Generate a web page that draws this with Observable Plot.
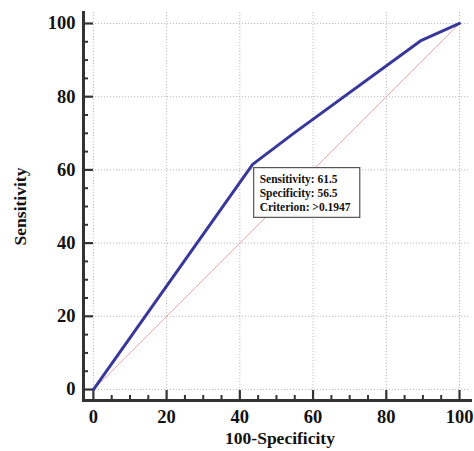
<!DOCTYPE html>
<html>
<head>
<meta charset="utf-8">
<script src="https://cdn.jsdelivr.net/npm/d3@7"></script>
<script src="https://cdn.jsdelivr.net/npm/@observablehq/plot@0.6"></script>
<style>
  html, body { margin: 0; padding: 0; background: #fff; }
  #chart svg { display: block; }
</style>
</head>
<body>
<div id="chart"></div>
<script>
// ROC curve (100-Specificity vs Sensitivity)
const rocX = [0, 43.5, 54.6, 89.6, 100];
const rocY = [0, 61.5, 69.9, 95.4, 100];
// reference diagonal
const diagX = [0, 100];
const diagY = [0, 100];
// ticks
const majorTicks = [0, 20, 40, 60, 80, 100];
const minorTicks = d3.range(0, 101, 5).filter(v => v % 20 !== 0);
// annotation
const annotX = 43.5;
const annotY = 61.5;
const annotLines = ["Sensitivity: 61.5", "Specificity: 56.5", "Criterion: >0.1947"];
const xTitle = "100-Specificity";
const yTitle = "Sensitivity";

const roc = rocX.map((x, i) => ({x, y: rocY[i]}));
const diag = diagX.map((x, i) => ({x, y: diagY[i]}));

const font = "'Liberation Serif', 'Times New Roman', serif";

const chart = Plot.plot({
  width: 474,
  height: 451,
  marginLeft: 83,
  marginRight: 4,
  marginTop: 12,
  marginBottom: 51,
  style: {fontFamily: font, background: "#fff"},
  x: {domain: [-2.7, 103]},
  y: {domain: [-3, 103]},
  marks: [
    Plot.gridX(majorTicks, {stroke: "#aaa", strokeOpacity: 1, strokeDasharray: "1.2,1.8", strokeWidth: 0.8}),
    Plot.gridY(majorTicks, {stroke: "#aaa", strokeOpacity: 1, strokeDasharray: "1.2,1.8", strokeWidth: 0.8}),
    Plot.axisX(majorTicks, {anchor: "bottom", tickSize: -10, tickPadding: 19, strokeWidth: 2.2, stroke: "#333", fontSize: 18.5, fontWeight: "bold", fill: "#111", label: null}),
    Plot.axisX(minorTicks, {anchor: "bottom", tickSize: -5, strokeWidth: 2, stroke: "#333", text: null, label: null}),
    Plot.axisY(majorTicks, {anchor: "left", tickSize: -10, tickPadding: 18, strokeWidth: 2.2, stroke: "#333", fontSize: 18.5, fontWeight: "bold", fill: "#111", label: null}),
    Plot.axisY(minorTicks, {anchor: "left", tickSize: -5, strokeWidth: 2, stroke: "#333", text: null, label: null}),
    Plot.frame({anchor: "left", stroke: "#333", strokeWidth: 3}),
    Plot.frame({anchor: "bottom", stroke: "#333", strokeWidth: 3}),
    Plot.line(diag, {x: "x", y: "y", stroke: "#d98e8e", strokeOpacity: 0.85, strokeWidth: 0.9}),
    Plot.line(roc, {x: "x", y: "y", stroke: "#38389a", strokeWidth: 3}),
    Plot.text([annotLines.join("\n")], {x: () => annotX, y: () => annotY, text: d => d, textAnchor: "start", lineAnchor: "top", dx: 7, dy: 8, fontSize: 11.5, fontWeight: "bold", fill: "#111", lineHeight: 1.25}),
    Plot.text([xTitle], {frameAnchor: "bottom", dy: 43, dx: 3, fontSize: 17.5, fontWeight: "bold", fill: "#111"}),
    Plot.text([yTitle], {frameAnchor: "left", dx: -63, rotate: -90, textAnchor: "middle", fontSize: 17.5, fontWeight: "bold", fill: "#111"})
  ]
});
document.getElementById("chart").appendChild(chart);

// draw the box around the annotation text
const texts = Array.from(chart.querySelectorAll("text")).filter(t => t.textContent.includes("Criterion"));
texts.forEach(t => {
  const bb = t.getBBox();
  const ns = "http://www.w3.org/2000/svg";
  const rect = document.createElementNS(ns, "rect");
  rect.setAttribute("x", bb.x - 6);
  rect.setAttribute("y", bb.y - 5);
  rect.setAttribute("width", bb.width + 15);
  rect.setAttribute("height", bb.height + 9);
  rect.setAttribute("fill", "#fff");
  rect.setAttribute("stroke", "#555");
  rect.setAttribute("stroke-width", "1.2");
  const tr = t.getAttribute("transform");
  if (tr) rect.setAttribute("transform", tr);
  t.parentNode.insertBefore(rect, t);
});
</script>
</body>
</html>
